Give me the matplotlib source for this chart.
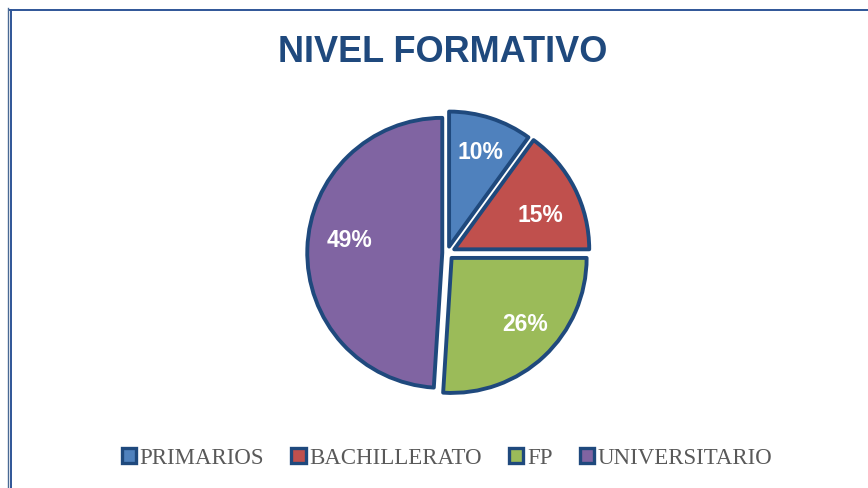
import numpy as np
import matplotlib
matplotlib.use("Agg")
import matplotlib.pyplot as plt
from matplotlib.lines import Line2D
from matplotlib.patches import Rectangle

categories = ["PRIMARIOS", "BACHILLERATO", "FP", "UNIVERSITARIO"]
values = [10, 15, 26, 49]
colors = ["#4F81BD", "#C0504D", "#9BBB59", "#8064A2"]
explode = [0.05, 0.06, 0.05, 0.035]
title = "NIVEL FORMATIVO"
edge = "#1F497D"

# label placement (angle in degrees, distance as fraction of radius)
label_place = [(72, 0.79), (22.5, 0.75), (-42.3, 0.78), (172.4, 0.73)]

W, H = 868, 489
fig = plt.figure(figsize=(W / 100, H / 100), dpi=100)
fig.patch.set_facecolor("white")


def fx(x):
    return x / W


def fy(y):
    return 1 - y / H


fig.add_artist(Line2D([fx(7.5), fx(7.5)], [fy(489), fy(9)], color="#4A6A94", lw=1.0))
fig.add_artist(Line2D([fx(10.5), fx(10.5)], [fy(489), fy(11)], color="#2F5597", lw=1.4))
fig.add_artist(Line2D([fx(10), fx(868)], [fy(11), fy(11)], color="#2F5597", lw=1.4))

cx, cy, R = 447, 254, 135
half = R * 1.10
ax = fig.add_axes([fx(cx - half), fy(cy + half), 2 * half / W, 2 * half / H])
wedges, texts, autotexts = ax.pie(
    values,
    colors=colors,
    explode=explode,
    startangle=90,
    counterclock=False,
    autopct="%d%%",
    pctdistance=0.72,
    wedgeprops=dict(edgecolor=edge, linewidth=2.8, joinstyle="round"),
    textprops=dict(color="white", fontsize=16.5, fontweight="bold",
                   family=["Liberation Sans", "DejaVu Sans"]),
    radius=1.0,
)
for t, (ang, d) in zip(autotexts, label_place):
    a = np.deg2rad(ang)
    t.set_position((d * np.cos(a), d * np.sin(a)))
ax.set_xlim(-1.10, 1.10)
ax.set_ylim(-1.10, 1.10)
ax.set_aspect("equal")
ax.axis("off")

fig.text(fx(443), fy(53), title, ha="center", va="center", fontsize=26,
         fontweight="bold", color="#1F497D", family=["Liberation Sans", "DejaVu Sans"])

handles = [Rectangle((0, 0), 1, 1, facecolor=c, edgecolor=edge, linewidth=2.4) for c in colors]
leg = fig.legend(handles, categories, loc="center", bbox_to_anchor=(fx(447), fy(459)),
                 ncol=4, frameon=False, handlelength=0.62, handleheight=0.62,
                 handletextpad=0.15, columnspacing=1.2,
                 prop=dict(family=["Liberation Serif", "DejaVu Serif"], size=16.5))
for t in leg.get_texts():
    t.set_color("#595959")

fig.savefig("out.png", dpi=100, facecolor="white")
